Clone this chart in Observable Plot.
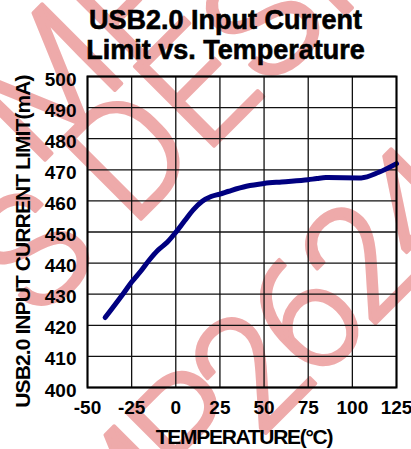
<!DOCTYPE html>
<html>
<head>
<meta charset="utf-8">
<script src="https://cdn.jsdelivr.net/npm/d3@7"></script>
<script src="https://cdn.jsdelivr.net/npm/@observablehq/plot@0.6"></script>
<style>
  html, body { margin: 0; padding: 0; background: #fff; }
  #wrap { position: relative; width: 411px; height: 449px; overflow: hidden; }
  #wm { position: absolute; left: 0; top: 0; z-index: 0; }
  #title { position: relative; z-index: 1; height: 64px; box-sizing: border-box; padding-top: 6.4px; padding-left: 40px; width: 411px;
           text-align: center; font-family: "Liberation Sans", Arial, sans-serif; font-weight: bold; font-size: 27px; line-height: 29.5px; color: #000;
           -webkit-text-stroke: 0.6px #000; }
  #chart { position: relative; z-index: 1; }
</style>
</head>
<body>
<div id="wrap">
  <svg id="wm" width="411" height="449"></svg>
  <div id="title">USB2.0 Input Current<br>Limit vs. Temperature</div>
  <div id="chart"></div>
</div>
<script>
// Data
const temperatures = [-40, -30, -25, -20, -15, -10, -5, 0, 5, 10, 15, 20, 25, 30, 40, 50, 60, 75, 80, 85, 105, 115, 125];
const currents =     [422.5, 430.0, 433.9, 437.3, 441.0, 444.2, 446.6, 449.9, 453.6, 457.2, 459.9, 461.4, 462.2, 463.1, 464.7, 465.6, 466.1, 466.8, 467.2, 467.5, 467.4, 469.2, 472.0];
const xTicks = [-50, -25, 0, 25, 50, 75, 100, 125];
const yTicks = [400, 410, 420, 430, 440, 450, 460, 470, 480, 490, 500];
const xLabel = "TEMPERATURE(°C)";
const yLabel = "USB2.0 INPUT CURRENT LIMIT(mA)";
const watermarkLines = ["MP2624", "MPS DESIGN", "MP2624"];

const data = temperatures.map((t, i) => ({t, v: currents[i]}));

// Watermark (behind everything)
const wm = d3.select("#wm");
const wmPos = [
  {x: 107, y: 592, r: -45, ls: -10},
  {x: -128, y: 488, r: -45, ls: 0},
  {x: 35, y: 170, r: -45, ls: 0}
];
watermarkLines.forEach((s, i) => {
  wm.append("text")
    .attr("transform", `translate(${wmPos[i].x},${wmPos[i].y}) rotate(${wmPos[i].r})`)
    .attr("font-family", "Roboto, 'Open Sans', sans-serif")
    .attr("font-weight", 300)
    .attr("font-size", 158)
    .attr("letter-spacing", wmPos[i].ls)
    .attr("fill", "#eeaaaa")
    .attr("stroke", "#eeaaaa")
    .attr("stroke-width", 3.5)
    .attr("stroke-linejoin", "round")
    .text(s);
});

const plot = Plot.plot({
  width: 411,
  height: 385,
  marginTop: 12,
  marginBottom: 62,
  marginLeft: 87,
  marginRight: 15,
  style: {background: "transparent", fontFamily: "'Liberation Sans', Arial, sans-serif", fontSize: "19px", color: "#000", overflow: "visible"},
  x: {domain: [-50, 125], ticks: xTicks, label: null},
  y: {domain: [400, 500], ticks: yTicks, label: null},
  marks: [
    Plot.gridX(xTicks, {stroke: "#111", strokeOpacity: 1, strokeWidth: 1.3}),
    Plot.gridY(yTicks, {stroke: "#111", strokeOpacity: 1, strokeWidth: 1.3}),
    Plot.line(data, {x: "t", y: "v", stroke: "#000080", strokeWidth: 5, curve: "monotone-x"}),
    Plot.frame({stroke: "#000", strokeWidth: 2}),
    Plot.axisX(xTicks, {tickSize: 0, tickPadding: 13, tickFormat: d => String(d), fontWeight: "bold", fontSize: 19, label: null}),
    Plot.axisY(yTicks, {tickSize: 0, tickPadding: 11, tickFormat: d => String(d), fontWeight: "bold", fontSize: 19, dy: 3, label: null})
  ]
});
document.getElementById("chart").appendChild(plot);

const svg = d3.select(plot);
svg.append("text")
  .attr("x", 244).attr("y", 380.3)
  .attr("text-anchor", "middle")
  .attr("font-family", "'Liberation Sans', Arial, sans-serif")
  .attr("font-size", 21).attr("font-weight", "bold")
  .attr("letter-spacing", -1.3)
  .attr("fill", "#000")
  .text(xLabel);
svg.append("text")
  .attr("transform", "translate(30,177.5) rotate(-90)")
  .attr("text-anchor", "middle")
  .attr("font-family", "'Liberation Sans', Arial, sans-serif")
  .attr("font-size", 21).attr("font-weight", "bold")
  .attr("letter-spacing", -0.9)
  .attr("fill", "#000")
  .text(yLabel);
</script>
</body>
</html>
